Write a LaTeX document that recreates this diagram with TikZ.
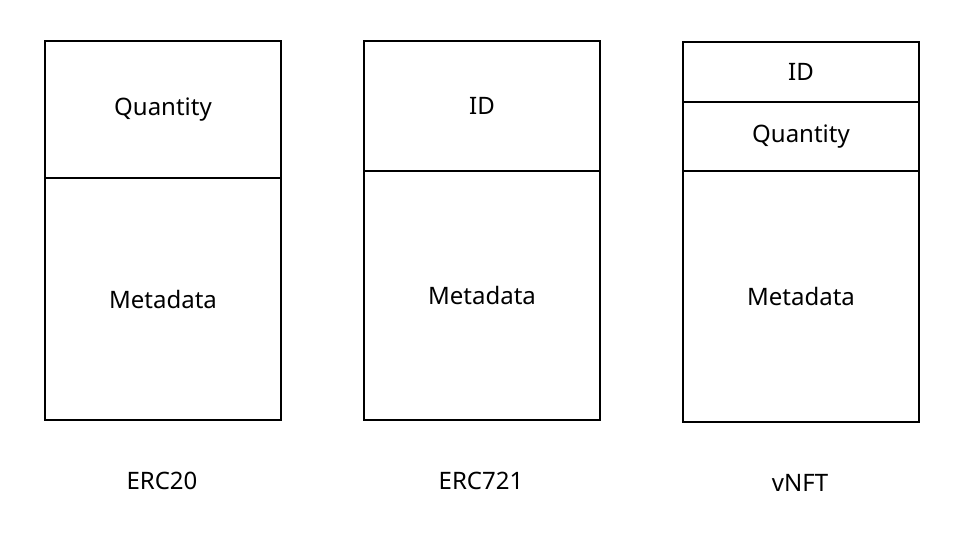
\documentclass[tikz,border=0pt]{standalone}
\usepackage{fontspec}
\setmainfont{Noto Sans}

\begin{document}
\begin{tikzpicture}[x=0.5pt, y=-0.5pt,
  field/.style={draw, line width=1pt, minimum width=118pt, inner sep=0pt,
    font=\fontsize{12}{14}\selectfont},
  caption/.style={font=\fontsize{12}{14}\selectfont}]
  \useasboundingbox (0,0) rectangle (960,532);

  % ERC20 layout
  \node[field, minimum height=68.5pt] (erc20qty) at (163,109.5) {Quantity};
  \node[field, minimum height=121pt] (erc20meta) at (163,299) {Metadata};
  \node[caption] (erc20) at (162,481) {ERC20};

  % ERC721 layout
  \node[field, minimum height=65pt] (erc721id) at (482,106) {ID};
  \node[field, minimum height=124.5pt] (erc721meta) at (482,295.5) {Metadata};
  \node[caption] (erc721) at (481,481) {ERC721};

  % vNFT layout
  \node[field, minimum height=30pt] (vnftid) at (801,72) {ID};
  \node[field, minimum height=34.5pt] (vnftqty) at (801,136.5) {Quantity};
  \node[field, minimum height=125.5pt] (vnftmeta) at (801,296.5) {Metadata};
  \node[caption] (vnft) at (800,483) {vNFT};

\end{tikzpicture}
\end{document}
